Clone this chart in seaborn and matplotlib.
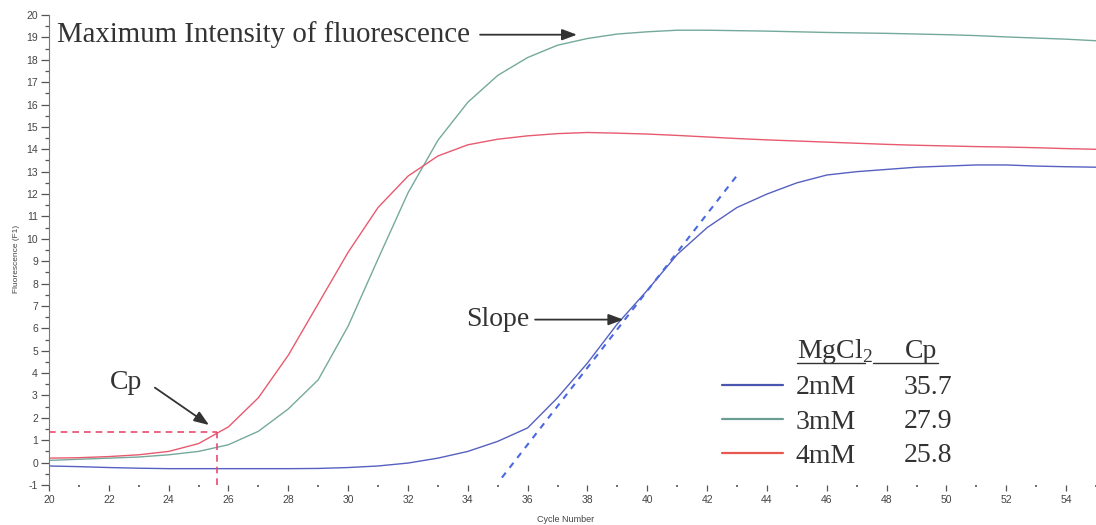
import numpy as np
import pandas as pd
import matplotlib
matplotlib.use("Agg")
import matplotlib.pyplot as plt
import seaborn as sns
from matplotlib.ticker import MultipleLocator
from matplotlib.lines import Line2D

# ---------------- data ----------------
cycles = list(range(20, 56))
blue_2mM = [-0.15, -0.18, -0.22, -0.25, -0.27, -0.27, -0.27, -0.27, -0.27, -0.26,
            -0.22, -0.15, -0.02, 0.20, 0.50, 0.95, 1.55, 2.90, 4.45, 6.20,
            7.70, 9.30, 10.50, 11.40, 12.00, 12.50, 12.85, 13.00, 13.10, 13.20,
            13.25, 13.30, 13.30, 13.25, 13.22, 13.20]
green_3mM = [0.10, 0.15, 0.20, 0.25, 0.35, 0.50, 0.80, 1.40, 2.40, 3.70,
             6.10, 9.10, 12.05, 14.40, 16.10, 17.30, 18.10, 18.65, 18.95, 19.15,
             19.25, 19.32, 19.32, 19.30, 19.28, 19.25, 19.22, 19.20, 19.18, 19.15,
             19.12, 19.08, 19.02, 18.97, 18.92, 18.85]
red_4mM = [0.20, 0.22, 0.27, 0.35, 0.50, 0.85, 1.60, 2.90, 4.80, 7.10,
           9.40, 11.40, 12.80, 13.70, 14.20, 14.45, 14.60, 14.70, 14.75, 14.72,
           14.68, 14.62, 14.55, 14.48, 14.42, 14.37, 14.32, 14.27, 14.22, 14.18,
           14.15, 14.12, 14.10, 14.07, 14.03, 14.00]
series_names = ["2mM", "3mM", "4mM"]
cp_values = ["35.7", "27.9", "25.8"]
colors = ["#5560c0", "#74a99c", "#e85a6e"]
legend_colors = ["#4a55b0", "#6a9e92", "#e8584f"]

slope_x = [35.14, 42.97]
slope_y = [-0.67, 12.78]
cp_marker_x = 25.6
cp_marker_y = 1.38

x_ticks = list(range(20, 56, 2))
y_ticks = list(range(-1, 21))

# ---------------- build frame ----------------
df = pd.DataFrame({
    "Cycle": cycles * 3,
    "Fluorescence": blue_2mM + green_3mM + red_4mM,
    "MgCl2": sum([[n] * len(cycles) for n in series_names], []),
})

sns.set_theme(style="white")
plt.rcParams["font.family"] = ["Liberation Sans", "DejaVu Sans"]
plt.rcParams["mathtext.fontset"] = "custom"
plt.rcParams["mathtext.rm"] = "Liberation Serif"
plt.rcParams["axes.unicode_minus"] = False

W, H = 1096, 525
fig = plt.figure(figsize=(W / 100, H / 100), dpi=100)
ax = fig.add_axes([49 / W, 40 / H, 1047 / W, 470 / H])

sns.lineplot(data=df, x="Cycle", y="Fluorescence", hue="MgCl2",
             palette=dict(zip(series_names, colors)), linewidth=1.0,
             ax=ax, legend=False)

ax.set_xlim(20, 55)
ax.set_ylim(-1, 20)

# tangent (slope) line and Cp markers
ax.plot(slope_x, slope_y, color="#4a68e0", lw=1.5, ls=(0, (3, 3)))
ax.plot([20, cp_marker_x], [cp_marker_y, cp_marker_y], color="#e84a70", lw=1.2, ls=(0, (4, 3)))
ax.plot([cp_marker_x, cp_marker_x], [-1, cp_marker_y], color="#e84a70", lw=1.2, ls=(0, (4, 3)))

# axes styling
for s in ["top", "right", "bottom"]:
    ax.spines[s].set_visible(False)
ax.spines["left"].set_color("#777777")
ax.spines["left"].set_linewidth(0.8)

ax.set_xticks(x_ticks)
ax.set_yticks(y_ticks)
ax.xaxis.set_minor_locator(MultipleLocator(1))
ax.yaxis.set_minor_locator(MultipleLocator(0.5))
ax.tick_params(axis="y", which="major", direction="out", length=6, width=0.9,
               color="#555555", labelsize=7.5, labelcolor="#444444", pad=2, left=True)
ax.tick_params(axis="y", which="minor", direction="out", length=3, width=0.9,
               color="#555555", left=True)
ax.tick_params(axis="x", which="major", direction="out", length=4, width=0.9,
               color="#555555", labelsize=7.5, labelcolor="#444444", pad=3, bottom=True)
ax.tick_params(axis="x", which="minor", direction="out", length=1.5, width=1.2,
               color="#555555", bottom=True)

ax.set_xlabel("Cycle Number", fontsize=6.5, color="#444444", labelpad=0)
ax.xaxis.set_label_coords(0.493, -0.064)
ax.set_ylabel("Fluorescence (F1)", fontsize=6, color="#444444", labelpad=0)
ax.yaxis.set_label_coords(-0.028, 0.48)

serif = ["Liberation Serif", "DejaVu Serif"]
tcol = "#333333"
fs = 20
arrow_kw = dict(arrowstyle="-|>,head_length=0.75,head_width=0.28", color="#333333", lw=1.3,
                shrinkA=0, shrinkB=0)

# annotations
ax.text(20.27, 19.12, "Maximum Intensity of fluorescence", family=serif, fontsize=20.8,
        color=tcol, ha="left", va="center")
ax.annotate("", xy=(37.65, 19.12), xytext=(34.41, 19.12), arrowprops=arrow_kw)

ax.text(36.05, 6.39, "Slope", family=serif, fontsize=fs, color=tcol, ha="right", va="center")
ax.annotate("", xy=(39.2, 6.39), xytext=(36.25, 6.39), arrowprops=arrow_kw)

ax.text(22.05, 3.6, "Cp", family=serif, fontsize=fs, color=tcol, ha="left", va="center")
ax.annotate("", xy=(25.35, 1.68), xytext=(23.54, 3.35), arrowprops=arrow_kw)

# legend-table
handles = [Line2D([], [], color=c, lw=1.6) for c in legend_colors]
leg = ax.legend(handles, series_names, loc="upper left",
                bbox_to_anchor=(722 / W, 1 - 375 / H), bbox_transform=fig.transFigure,
                frameon=False, borderpad=0, borderaxespad=0, handlelength=2.2,
                handletextpad=0.45, labelspacing=0.32,
                prop={"family": serif, "size": fs})
for t in leg.get_texts():
    t.set_color(tcol)

row_y = [3.36, 1.82, 0.30]
for v, yy in zip(cp_values, row_y):
    ax.text(50.2, yy, v, family=serif, fontsize=fs, color=tcol, ha="right", va="center")

hdr_y = 4.96
ax.text(45.01, hdr_y, r"MgCl$_2$", family=serif, fontsize=fs, color=tcol, ha="left", va="center")
ax.text(49.7, hdr_y, "Cp", family=serif, fontsize=fs, color=tcol, ha="right", va="center")
ax.plot([45.01, 47.28], [4.47, 4.47], color=tcol, lw=1.0)
ax.plot([47.55, 49.72], [4.47, 4.47], color=tcol, lw=1.0)

fig.savefig("out.png", dpi=100)
